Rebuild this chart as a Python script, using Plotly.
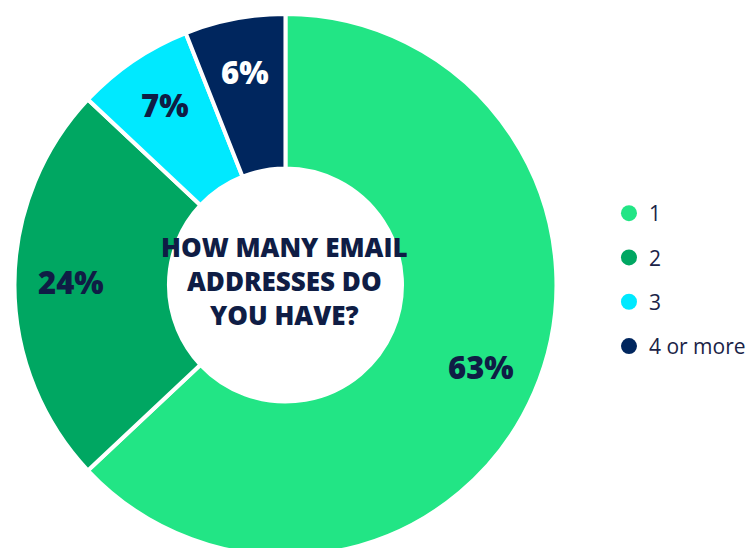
import math
import plotly.graph_objects as go

categories = ["1", "2", "3", "4 or more"]
values = [63, 24, 7, 6]
colors = ["#22e585", "#00a762", "#00e9ff", "#00265e"]
text_colors = ["#0f1d45", "#0f1d45", "#0f1d45", "#ffffff"]
title_text = "HOW MANY EMAIL<br>ADDRESSES DO<br>YOU HAVE?"

W, H, MT = 755, 548, 6
CX, CY, R_LABEL = 277, 274, 214

fig = go.Figure()
fig.add_trace(go.Pie(
    labels=categories, values=values, hole=0.43, sort=False,
    direction="clockwise", rotation=0,
    marker=dict(colors=colors, line=dict(color="white", width=4)),
    textinfo="none", hoverinfo="label+percent",
    showlegend=False, domain=dict(x=[0, 0.735], y=[0, 1]),
))
for c, col in zip(categories, colors):
    fig.add_trace(go.Scatter(x=[None], y=[None], mode="markers", name=c, legendgroup=c,
                             marker=dict(symbol="circle", size=20, color=col)))

# percentage labels placed at each slice's mid-angle
total = sum(values)
cum = 0
for v, tc in zip(values, text_colors):
    mid = (cum + v / 2) / total * 2 * math.pi
    cum += v
    px = CX + R_LABEL * math.sin(mid)
    py = CY - R_LABEL * math.cos(mid)
    fig.add_annotation(text=f"{round(v / total * 100)}%", x=px / W, y=1 - (py - MT) / (H - MT),
                       xref="paper", yref="paper", showarrow=False,
                       xanchor="center", yanchor="middle",
                       font=dict(family="Open Sans", size=31, color=tc, weight=800))

fig.add_annotation(text=title_text, x=276 / W, y=1 - (273 - MT) / (H - MT), xref="paper", yref="paper",
                   showarrow=False, align="center",
                   font=dict(family="Open Sans", size=26, color="#0f1d45", weight=800))

fig.update_layout(
    width=W, height=H, margin=dict(l=0, r=0, t=MT, b=0),
    paper_bgcolor="white", plot_bgcolor="white",
    xaxis=dict(visible=False), yaxis=dict(visible=False),
    legend=dict(x=0.796, y=1 - (272 - MT) / (H - MT), yanchor="middle", xanchor="left",
                font=dict(family="Open Sans", size=21, color="#1a2347"),
                tracegroupgap=14),
)
fig.write_html("out.html")
